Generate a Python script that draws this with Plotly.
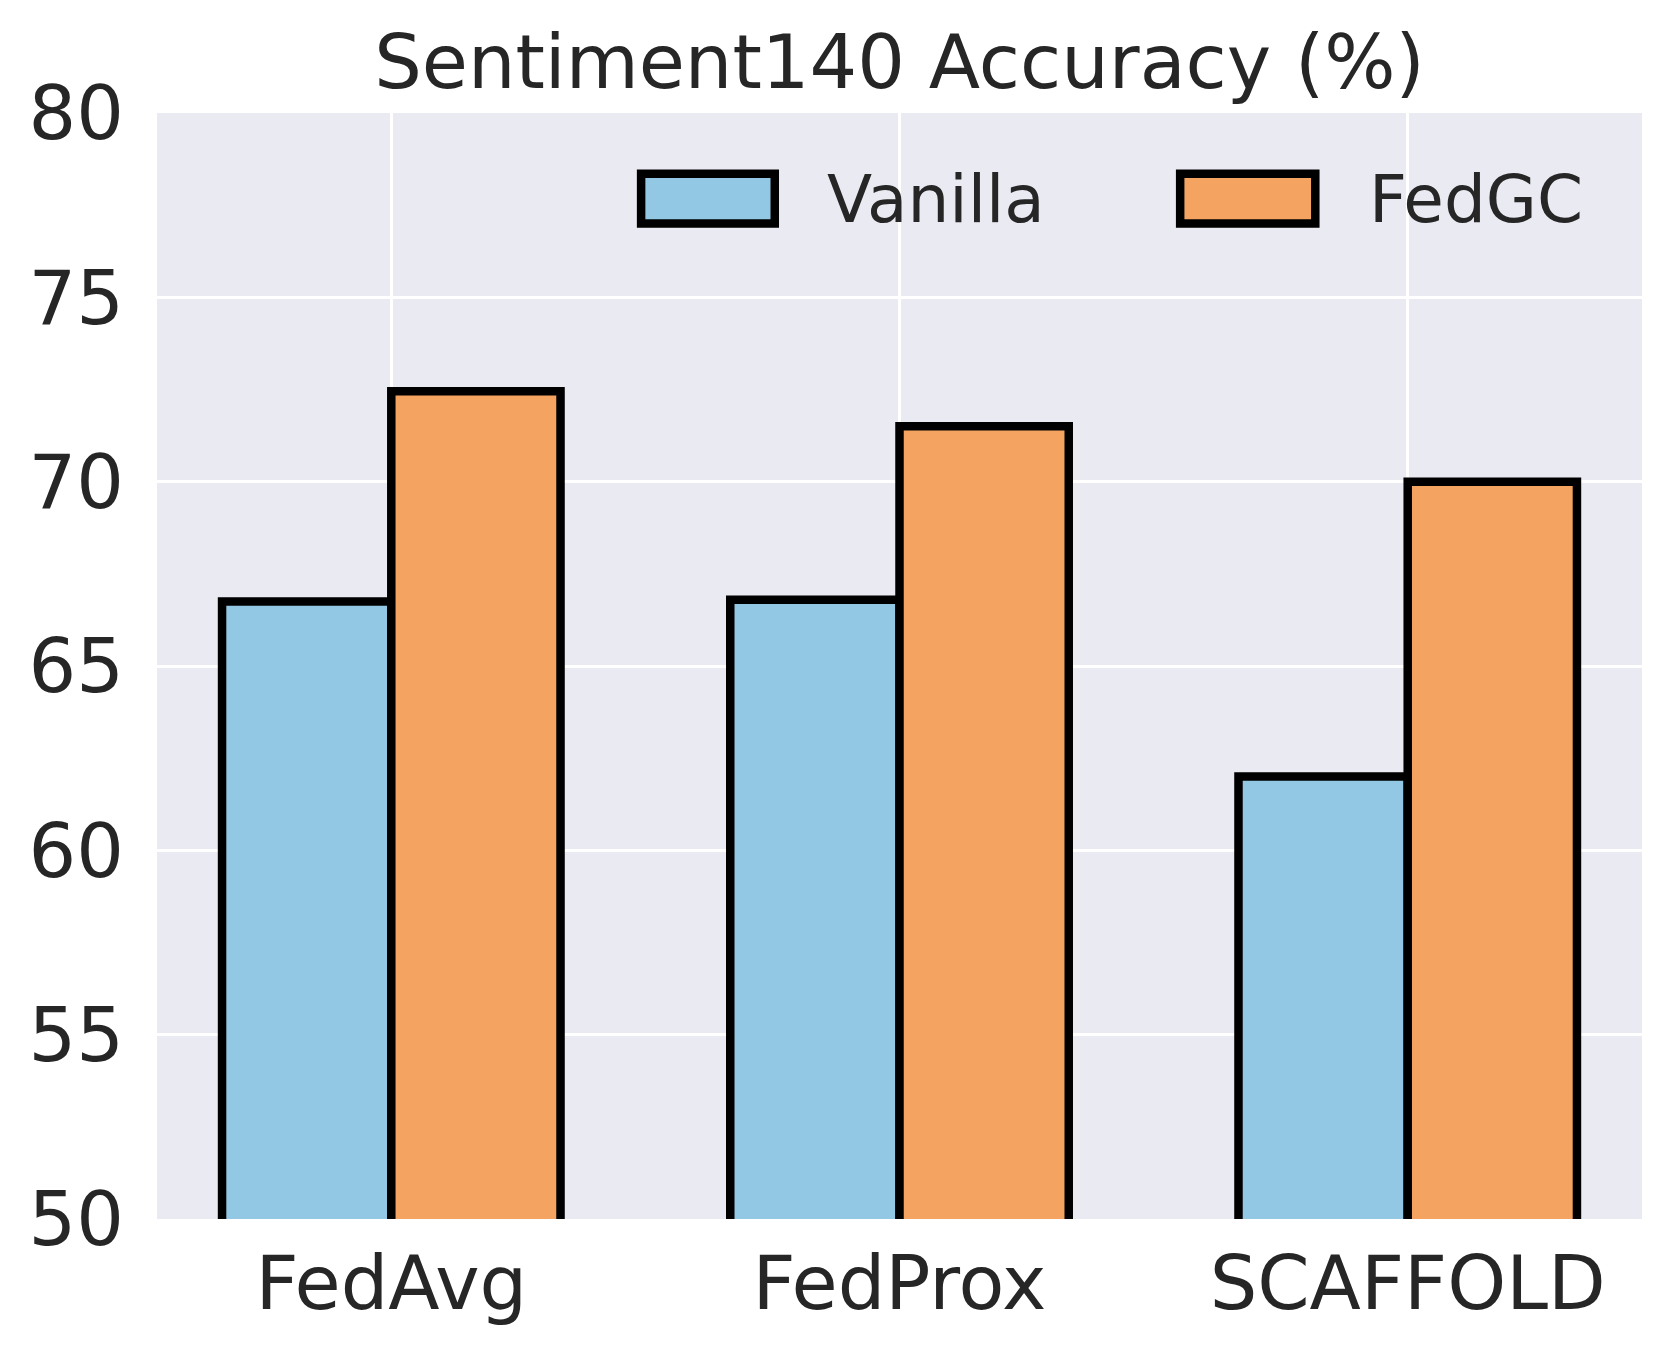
import plotly.graph_objects as go

# data
methods = ['FedAvg', 'FedProx', 'SCAFFOLD']
vanilla = [66.75, 66.8, 62.0]
fedgc = [72.45, 71.5, 70.0]
y_ticks = [50, 55, 60, 65, 70, 75, 80]

bar_w = 0.333
text_col = '#262626'
font = 'DejaVu Sans'
xpos = list(range(len(methods)))

fig = go.Figure()

fig.add_trace(go.Bar(
    x=xpos, y=vanilla, name='Vanilla',
    width=bar_w, offset=-bar_w,
    marker=dict(color='#93C8E4', line=dict(color='black', width=8.5)),
    showlegend=False))

fig.add_trace(go.Bar(
    x=xpos, y=fedgc, name='FedGC',
    width=bar_w, offset=0,
    marker=dict(color='#F4A460', line=dict(color='black', width=8.5)),
    showlegend=False))

# legend drawn by hand so the patches match the big matplotlib ones
legend_items = [('Vanilla', '#93C8E4', 0.326, 0.416, 0.450),
                ('FedGC', '#F4A460', 0.689, 0.780, 0.8145)]
for label, col, x0, x1, xt in legend_items:
    fig.add_shape(type='rect', xref='paper', yref='paper',
                  x0=x0, x1=x1, y0=0.900, y1=0.945,
                  fillcolor=col, line=dict(color='black', width=8.5))
    fig.add_annotation(text=label, xref='paper', yref='paper',
                       x=xt, y=0.922, xanchor='left', yanchor='middle',
                       showarrow=False,
                       font=dict(family=font, size=66, color=text_col))

# page body has an 8px margin, so margins are shifted to compensate
fig.update_layout(
    width=1672, height=1352,
    margin=dict(l=149, r=38, t=105, b=141),
    paper_bgcolor='white',
    plot_bgcolor='#EAEAF2',
    barmode='overlay',
    font=dict(family=font, color=text_col),
    title=dict(text='Sentiment140 Accuracy (%)',
               xref='paper', x=0.5, xanchor='center',
               y=0.96, yanchor='middle',
               font=dict(family=font, size=75, color=text_col)),
)

fig.update_xaxes(
    range=[-0.461, 2.461],
    tickvals=xpos, ticktext=methods,
    showgrid=True, gridcolor='white', gridwidth=2.5,
    zeroline=False, showline=False,
    ticks='', ticklabelstandoff=14,
    tickfont=dict(family=font, size=75, color=text_col))

fig.update_yaxes(
    range=[50, 80],
    tickvals=y_ticks,
    showgrid=True, gridcolor='white', gridwidth=2.5,
    zeroline=False, showline=False,
    ticks='', ticklabelstandoff=32,
    tickfont=dict(family=font, size=75, color=text_col))

fig.write_html('out.html')
